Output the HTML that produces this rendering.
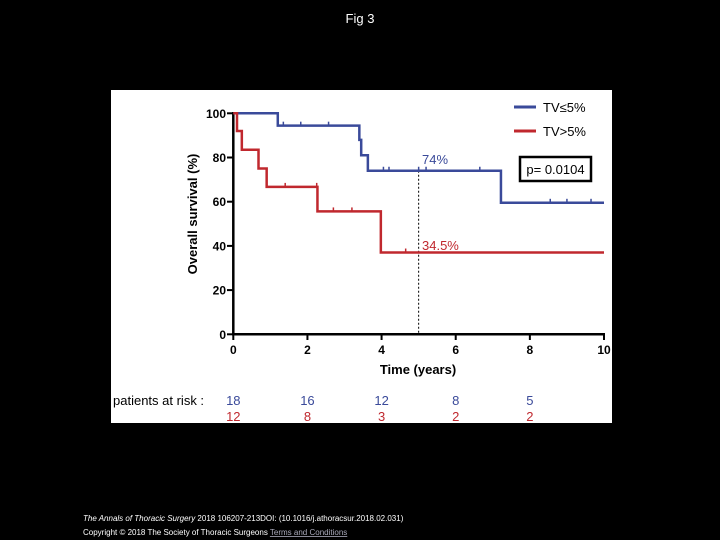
<!DOCTYPE html>
<html><head><meta charset="utf-8"><style>
body{margin:0;background:#000;width:720px;height:540px;overflow:hidden;font-family:"Liberation Sans",sans-serif}
</style></head><body>
<svg width="720" height="540" style="position:absolute;left:0;top:0">
<text x="360" y="23" fill="#fff" font-size="13" text-anchor="middle">Fig 3</text>
<rect x="111" y="90" width="501" height="333" fill="#fff"/>
<g id="plot"></g>
<text x="83" y="521" fill="#fff" font-size="8"><tspan font-style="italic">The Annals of Thoracic Surgery</tspan> 2018 106207-213DOI: (10.1016/j.athoracsur.2018.02.031)</text>
<text x="83" y="535" fill="#fff" font-size="8">Copyright © 2018 The Society of Thoracic Surgeons <tspan fill="#aab" text-decoration="underline">Terms and Conditions</tspan></text>
</svg>
<script>
const xTicks=[0,2,4,6,8,10];
const yTicks=[0,20,40,60,80,100];
const blueTimes=[0,1.2,3.4,3.45,3.63,7.22,10];
const blueSurv=[100,94.4,88,81,74,59.5,59.5];
const blueCens=[1.35,1.82,2.57,4.05,4.2,5.0,5.2,6.65,8.55,9.0,9.65];
const redTimes=[0,0.1,0.23,0.68,0.9,2.27,3.98,10];
const redSurv=[100,92,83.5,75,66.7,55.6,37,37];
const redCens=[1.4,2.25,2.7,3.2,4.65];
const riskTimes=[0,2,4,6,8];
const riskBlue=[18,16,12,8,5];
const riskRed=[12,8,3,2,2];
const X=t=>233.3+t*37.07, Y=v=>334.3-v*2.21;
const ns="http://www.w3.org/2000/svg", g=document.getElementById('plot');
function el(tag,a,txt){const e=document.createElementNS(ns,tag);for(const k in a)e.setAttribute(k,a[k]);if(txt!=null)e.textContent=txt;g.appendChild(e);return e;}
let e;
e=el('line',{x1:233.3,y1:112,x2:233.3,y2:334.3,stroke:'#000','stroke-width':2.5});

e=el('line',{x1:232,y1:334.3,x2:605,y2:334.3,stroke:'#000','stroke-width':2.5});

xTicks.forEach(t=>{
 e=el('line',{x1:X(t),y1:334,x2:X(t),y2:340,stroke:'#000','stroke-width':2});
 
 e=el('text',{x:X(t),y:354,'font-size':12,'font-weight':'bold','text-anchor':'middle'},t);
 
});
yTicks.forEach(v=>{
 e=el('line',{x1:227,y1:Y(v),x2:233,y2:Y(v),stroke:'#000','stroke-width':2});
 
 e=el('text',{x:226,y:Y(v)+4.5,'font-size':12,'font-weight':'bold','text-anchor':'end'},v);
 
});
e=el('text',{x:418,y:374,'font-size':13,'font-weight':'bold','text-anchor':'middle'},'Time (years)');

e=el('text',{x:0,y:0,'font-size':13,'font-weight':'bold','text-anchor':'middle',transform:'translate(197,214) rotate(-90)'},'Overall survival (%)');

e=el('line',{x1:X(5),y1:Y(74),x2:X(5),y2:334,stroke:'#000','stroke-width':1,'stroke-dasharray':'2,2'});

function steps(ts,ss){let d='M'+X(ts[0])+','+Y(ss[0]);for(let i=1;i<ts.length;i++){d+=' H'+X(ts[i])+' V'+Y(ss[i]);}return d;}
function survAt(ts,ss,t){let v=ss[0];for(let i=0;i<ts.length;i++)if(ts[i]<=t)v=ss[i];return v;}
[[blueTimes,blueSurv,blueCens,'#3a4a9a','blue'],[redTimes,redSurv,redCens,'#c0282e','red']].forEach(([ts,ss,cs,c,n])=>{
 e=el('path',{d:steps(ts,ss),fill:'none',stroke:c,'stroke-width':2.5});
 
 cs.forEach(t=>{const v=survAt(ts,ss,t);
  e=el('line',{x1:X(t),y1:Y(v)-4,x2:X(t),y2:Y(v),stroke:c,'stroke-width':1.5});
  });
});
e=el('text',{x:422,y:164,'font-size':13,fill:'#3a4a9a'},'74%');

e=el('text',{x:422,y:250,'font-size':13,fill:'#c0282e'},'34.5%');

e=el('line',{x1:514,y1:107,x2:536,y2:107,stroke:'#3a4a9a','stroke-width':3});

e=el('text',{x:543,y:112,'font-size':13},'TV≤5%');

e=el('line',{x1:514,y1:131,x2:536,y2:131,stroke:'#c0282e','stroke-width':3});

e=el('text',{x:543,y:136,'font-size':13},'TV>5%');

e=el('rect',{x:520,y:157,width:71,height:24,fill:'#fff',stroke:'#000','stroke-width':2.5});

e=el('text',{x:555.5,y:174,'font-size':13,'text-anchor':'middle'},'p= 0.0104');

e=el('text',{x:113,y:405,'font-size':13},'patients at risk  :');

riskTimes.forEach((t,i)=>{
 e=el('text',{x:X(t),y:405,'font-size':13,fill:'#3a4a9a','text-anchor':'middle'},riskBlue[i]);
 
 e=el('text',{x:X(t),y:421,'font-size':13,fill:'#c0282e','text-anchor':'middle'},riskRed[i]);
 
});
</script>
</body></html>
